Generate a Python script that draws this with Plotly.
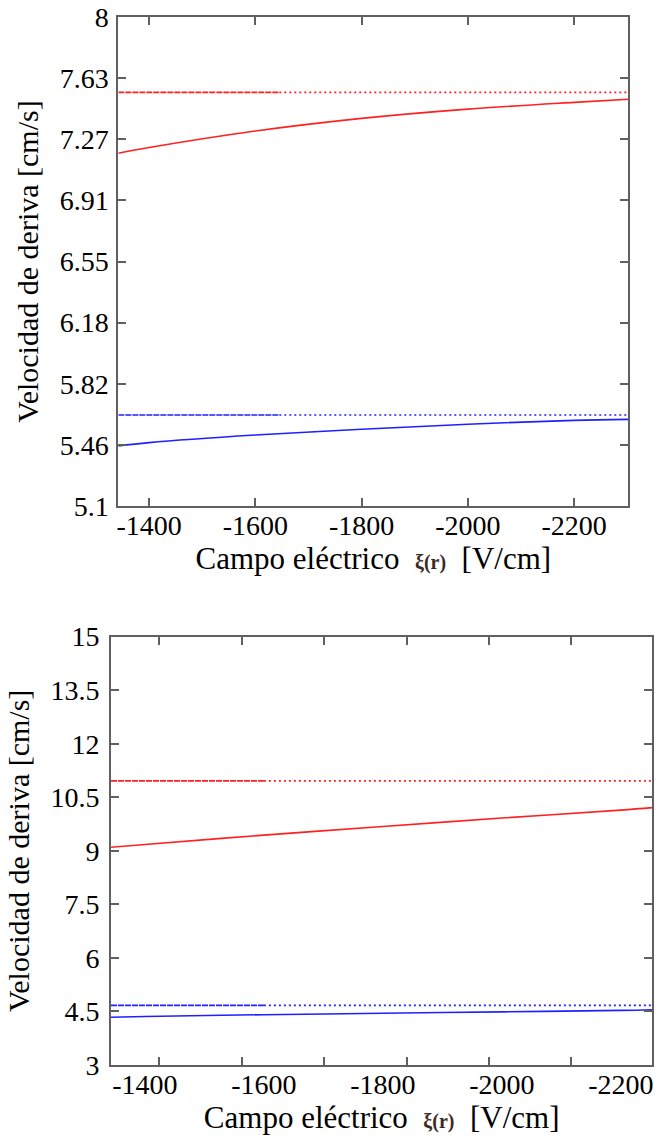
import plotly.graph_objects as go

# ---------------- data ----------------
# top panel
x_top = [-1342, -1400, -1600, -1800, -2000, -2200, -2302]
red_top = [7.192, 7.226, 7.324, 7.399, 7.454, 7.494, 7.512]
blue_top = [5.456, 5.476, 5.521, 5.555, 5.585, 5.608, 5.614]
x_top_dash = [-1342, -1645]
x_top_dot = [-1645, -2302]
red_top_ref = [7.553, 7.553]
blue_top_ref = [5.640, 5.640]
top_yticks = [5.1, 5.4625, 5.825, 6.1875, 6.55, 6.9125, 7.275, 7.6375, 8.0]
top_yticktext = ["5.1", "5.46", "5.82", "6.18", "6.55", "6.91", "7.27", "7.63", "8"]
top_xticks = [-1400, -1600, -1800, -2000, -2200]

# bottom panel
x_bot = [-1343, -1400, -1600, -1800, -2000, -2200, -2253]
red_bot = [9.10, 9.18, 9.44, 9.68, 9.92, 10.14, 10.21]
blue_bot = [4.34, 4.36, 4.41, 4.45, 4.49, 4.53, 4.55]
x_bot_dash = [-1343, -1600]
x_bot_dot = [-1600, -2253]
red_bot_ref = [10.96, 10.96]
blue_bot_ref = [4.67, 4.67]
bot_yticks = [3, 4.5, 6, 7.5, 9, 10.5, 12, 13.5, 15]
bot_yticktext = ["3", "4.5", "6", "7.5", "9", "10.5", "12", "13.5", "15"]
bot_xlabels = [-1400, -1600, -1800, -2000, -2200]
bot_xmarks = [-1424, -1563, -1701, -1840, -1978, -2116]

RED = "#ff2020"
BLUE = "#2020ff"
AX = "#606060"
FONT = "Liberation Serif, Times New Roman, DejaVu Serif, serif"

xtitle = ("Campo eléctrico  <span style='font-size:20px;font-weight:bold;color:#3b2a22'>ξ(r)</span>  [V/cm]")
ytitle = "Velocidad de deriva [cm/s]"

fig = go.Figure()

def add_set(xs, red, blue, xd, xdot, rref, bref, xa, ya):
    fig.add_trace(go.Scatter(x=xs, y=red, mode="lines", line=dict(color=RED, width=1.6, shape="spline"),
                             xaxis=xa, yaxis=ya, showlegend=False))
    fig.add_trace(go.Scatter(x=xs, y=blue, mode="lines", line=dict(color=BLUE, width=1.6, shape="spline"),
                             xaxis=xa, yaxis=ya, showlegend=False))
    for ref, col in ((rref, RED), (bref, BLUE)):
        fig.add_trace(go.Scatter(x=xd, y=ref, mode="lines", line=dict(color=col, width=1.6, dash="6px,1px"),
                                 xaxis=xa, yaxis=ya, showlegend=False))
        fig.add_trace(go.Scatter(x=xdot, y=ref, mode="lines", line=dict(color=col, width=1.6, dash="2px,3px"),
                                 xaxis=xa, yaxis=ya, showlegend=False))

add_set(x_top, red_top, blue_top, x_top_dash, x_top_dot, red_top_ref, blue_top_ref, "x", "y")
add_set(x_bot, red_bot, blue_bot, x_bot_dash, x_bot_dot, red_bot_ref, blue_bot_ref, "x2", "y2")

tickfont = dict(family=FONT, size=28, color="black")
titlefont = dict(family=FONT, size=31, color="black")
ytitlefont = dict(family=FONT, size=30, color="black")

common_axis = dict(showgrid=False, zeroline=False, showline=True, linecolor=AX, linewidth=2,
                   ticks="inside", ticklen=8, tickwidth=1.5, tickcolor=AX, mirror="ticks",
                   tickfont=tickfont, automargin=False)

fig.update_layout(
    width=670, height=1142,
    margin=dict(l=0, r=0, t=0, b=0, autoexpand=False),
    font=dict(family=FONT, color="black"),
    paper_bgcolor="white", plot_bgcolor="white",
    xaxis=dict(common_axis, domain=[0.1766, 0.9378], range=[-1342, -2302], anchor="y",
               tickmode="array", tickvals=top_xticks, ticktext=[str(v) for v in top_xticks],
               ticklabelstandoff=-7,
               title=dict(text=xtitle, font=titlefont, standoff=4)),
    yaxis=dict(common_axis, domain=[0.5569, 0.9851], range=[5.1, 8.0], anchor="x",
               tickmode="array", tickvals=top_yticks, ticktext=top_yticktext,
               ticklabelstandoff=2,
               title=dict(text=ytitle, font=ytitlefont, standoff=12)),
    xaxis2=dict(common_axis, domain=[0.1657, 0.9736], range=[-1343, -2253], anchor="y2",
                ticks="", mirror=True,
                tickmode="array", tickvals=bot_xlabels, ticktext=[str(v) for v in bot_xlabels],
                ticklabelstandoff=-7,
                title=dict(text=xtitle, font=titlefont, standoff=2)),
    xaxis3=dict(common_axis, domain=[0.1657, 0.9736], range=[-1343, -2253], anchor="y2",
                overlaying="x2", tickmode="array", tickvals=bot_xmarks, showticklabels=False),
    yaxis2=dict(common_axis, domain=[0.0674, 0.4425], range=[3, 15], anchor="x2",
                tickmode="array", tickvals=bot_yticks, ticktext=bot_yticktext,
                ticklabelstandoff=4,
                title=dict(text=ytitle, font=ytitlefont, standoff=12)),
)

# invisible trace to activate xaxis3
fig.add_trace(go.Scatter(x=[bot_xmarks[0]], y=[bot_yticks[0]], mode="markers", marker=dict(opacity=0),
                         xaxis="x3", yaxis="y2", showlegend=False, hoverinfo="skip"))

fig.write_html("out.html", config={"displayModeBar": False},
               post_script="document.body.style.margin='0';")
